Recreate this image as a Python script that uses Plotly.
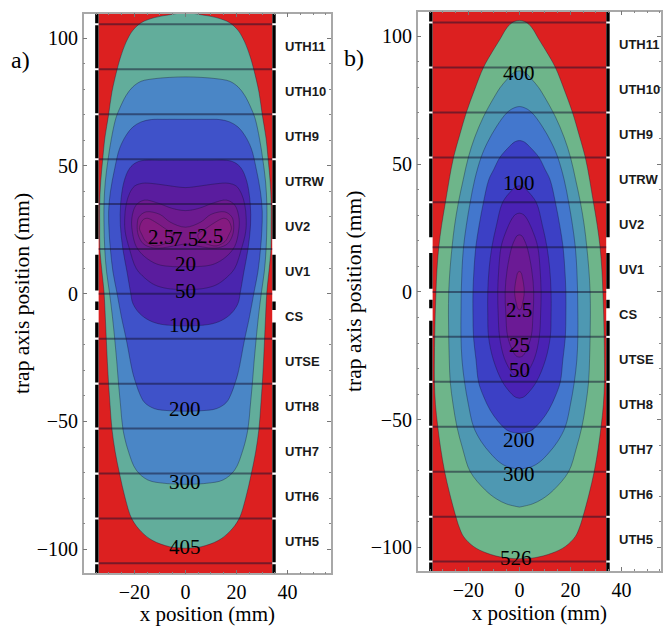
import plotly.graph_objects as go

# ---- electrodes (mm along the trap axis) ----
ELECTRODE_Y = [105.4, 87.8, 70.2, 52.6, 35.1, 17.5, 0, -17.6, -35.2, -52.8, -70.4, -88, -105.5]
ELECTRODE_NAMES = ["UTH11", "UTH10", "UTH9", "UTRW", "UV2", "UV1", "CS", "UTSE", "UTH8", "UTH7", "UTH6", "UTH5"]
ELECTRODE_LABEL_Y = [96.6, 79, 61.4, 43.8, 26.3, 8.8, -8.8, -26.4, -44, -61.6, -79.2, -96.8]
WALL_SEGMENTS = [(110, 105.8), (105, 88.2), (87.4, 70.6), (69.8, 53), (52.2, 35.5), (34.7, 21.4), (15.2, 1.2),
                 (-3.1, -6.4), (-11.3, -17.2), (-18, -34.8), (-35.6, -52.4), (-53.2, -70), (-70.8, -87.6),
                 (-88.4, -105.1), (-105.9, -110)]
TRAP_HALF_WIDTH = 34
WALL_X = 34.7

# ---- panel a contours: right half outline (x, y) in mm, top to bottom ----
A_405 = [(0, 110), (5.6, 109.2), (12.1, 108), (17.3, 106), (20.6, 103), (23.2, 98.5), (25.4, 92.6), (26.8, 87.6), (28.8, 78.9),
         (30.1, 70), (31.6, 60.7), (32.4, 52.6), (33.2, 43.7), (33.6, 35), (33.6, 26.8), (33.5, 17.4), (32.7, 8.6), (31.9, 0.7),
         (31.4, -9), (31, -17.8), (30.6, -26.5), (30.1, -35.4), (29.5, -44), (28.8, -52.9), (27.5, -62), (25.8, -70.5),
         (23.6, -80), (21, -88.1), (17.3, -93.1), (12.8, -96.6), (6.2, -99), (0, -99.6)]
A_300 = [(0, 84.8), (6.2, 84.6), (12.1, 84.1), (17.3, 83.1), (20.6, 80.9), (23.2, 77.6), (25.8, 72.4), (27.3, 68.5), (29, 60.7),
         (30.3, 52.6), (31.4, 43.7), (31.9, 35), (31.9, 26.8), (31.6, 17.4), (30.9, 8.6), (29.8, 0.7), (28.6, -9), (27.7, -17.8),
         (26.9, -26.5), (26.2, -35.4), (25.4, -44), (24.5, -52.9), (22.5, -61.2), (19.3, -69), (14.7, -72.9), (8.2, -74.2), (0, -74.6)]
A_200 = [(0, 68.2), (8.2, 68.2), (13.4, 68.1), (17.3, 67.2), (20.6, 65.2), (23.2, 62), (25.8, 56.8), (27.7, 49), (29.4, 39.8),
         (30.1, 32), (29.9, 24.2), (29.4, 17.4), (28.4, 8.6), (26.9, 0.7), (25.1, -9), (23.2, -17.8), (20.6, -31.1), (19.3, -35.4),
         (18, -39), (16, -42.6), (12.1, -45), (6.2, -45.8), (0, -46)]
A_100 = [(0, 52.2), (9.5, 52.2), (16, 52.2), (19.3, 51.3), (21.9, 49), (24.1, 43.7), (25.4, 35), (25.5, 26.8), (24.5, 17.4),
         (22.9, 8.6), (21.5, 0.5), (20.6, -3.8), (18, -7.7), (14.1, -10.5), (9.5, -12), (4.3, -12.5), (0, -12.6)]
A_50 = [(0, 41.5), (5.6, 42.1), (12.1, 43), (16.7, 43.2), (19.9, 42.1), (21.9, 39.2), (23.2, 35), (23.8, 29.5), (23.6, 24.2),
        (21.9, 17.4), (19.3, 9.9), (16, 6.2), (12, 3.4), (7, 2), (0, 1.5)]
A_20 = [(0, 32.5), (5, 33.3), (11, 35.5), (16, 36.6), (19.3, 34.7), (21, 29.5), (20.8, 24.2), (19.3, 18.5), (16, 14.5), (11, 11.5),
        (5, 10.6), (0, 10.6)]
A_7_5 = [(0, 26), (6, 28), (10, 31), (15.4, 32), (18.2, 30), (18.9, 26.8), (18.5, 23), (16.5, 19.5), (13, 18), (9, 17.9), (4.5, 18.7), (0, 19.5)]
A_2_5_LOBE = [(18, 25.6), (16.7, 28.8), (15, 29.5), (12.1, 28.2), (8.2, 25.6), (4.9, 23), (5.6, 21), (8.2, 19.5),
              (12.1, 18.7), (15.5, 20.4), (17, 23), (18, 25.6)]
A_COLORS = ["#62AD9B", "#4A86C6", "#3F52C9", "#4A25AE", "#5A1C9E", "#6C1A90", "#7A1A85", "#851A80"]
A_LABELS = [("2.5", -9.5, 22.2), ("7.5", 0, 21.2), ("2.5", 9.6, 22.6), ("20", 0, 11.6), ("50", 0, 1), ("100", 0, -12.2),
            ("200", 0, -45), ("300", 0, -73.8), ("405", 0, -99)]

# ---- panel b contours ----
B_526 = [(0, 106.2), (2, 105.8), (3.8, 104.6), (5.5, 102.5), (7.5, 99), (10.6, 94), (14.1, 87.8), (17.6, 79), (20.8, 70.2),
         (23.5, 61), (25.8, 52.7), (27.5, 44), (29, 35), (30.5, 26), (31.6, 17.5), (32.3, 8.7), (32.7, -0.1), (33, -9), (33.2, -17.5),
         (33.3, -26), (33.3, -35.3), (32.9, -44), (32, -52.7), (30.9, -61), (29.3, -70.3), (27.3, -79), (24.9, -87.9), (23.6, -92),
         (21.9, -95.7), (18, -99.6), (12.8, -102.2), (6, -104), (0, -104.4)]
B_400 = [(0, 86.5), (2.5, 85.6), (5, 83), (7.5, 80), (10, 76), (14.1, 68.5), (17.5, 60.5), (20, 52.7), (22, 44), (23.9, 35),
         (25.4, 26), (26.4, 17.5), (27.2, 8.7), (27.7, -0.1), (27.8, -9), (27.7, -17.5), (27.5, -26), (27.1, -35.3), (26, -44),
         (24.5, -52.7), (22.2, -61.5), (19.3, -70.3), (13.4, -77.5), (9, -81), (5, -83), (0, -84.2)]
B_300 = [(0, 72.5), (2.5, 71.8), (5, 70), (8.9, 64.8), (12.5, 58.5), (15, 52.7), (17.5, 44), (19.3, 35), (20.8, 26), (21.9, 17.5),
         (22.5, 8.7), (22.8, -0.1), (22.9, -9), (22.9, -17.5), (22.5, -26.6), (21.5, -35.3), (20, -44), (18, -52.7), (15, -58.5),
         (11.5, -63), (8, -66.5), (5, -68.3), (0, -69.4)]
B_200 = [(0, 59.2), (2, 58.6), (3.8, 57), (7.6, 52.7), (10, 48), (12, 43.9), (14.1, 35), (15.8, 26), (17.1, 17.5), (17.8, 8.7), (18.2, -0.1),
         (18.2, -9), (18, -17.5), (17, -26.6), (16, -35.3), (14, -41), (11.5, -46.2), (8.5, -50.5), (5, -54), (2.5, -55), (0, -55.3)]
B_100 = [(0, 41.5), (1.6, 41), (3.2, 39.5), (6.6, 35), (9, 26), (10.8, 17.5), (11.9, 8.7), (12.4, -0.1), (12.4, -9), (12.1, -17.5),
         (10.2, -26.6), (6.6, -35.3), (3, -40), (1.5, -41.2), (0, -41.6)]
B_50 = [(0, 30.8), (1.5, 30.3), (3, 28.5), (5.5, 23), (7.2, 17.5), (8.1, 8.7), (8.5, -0.1), (8.3, -9), (7.8, -17.5), (5.9, -26), (3, -31.5),
        (1.5, -32.7), (0, -33)]
B_25 = [(0, 22.3), (1, 21.9), (1.8, 20.5), (3, 17.5), (4.8, 8.7), (5.6, -0.1), (5.3, -9), (4.6, -17.5), (2.4, -23.5), (1.1, -25.2), (0, -25.5)]
B_2_5 = [(0, 8), (0.6, 7.6), (1.1, 6), (1.9, 0), (1.1, -5), (0.6, -6.6), (0, -7)]
B_COLORS = ["#6EB58A", "#4E98B2", "#4377CD", "#3C40C5", "#4A22B4", "#5C1CA5", "#6B1A95", "#801A85"]
B_LABELS = [("400", 0, 85.8), ("100", 0, 42.6), ("2.5", 0, -7), ("25", 0, -20.8), ("50", 0, -30.4), ("200", 0, -57.9),
            ("300", 0, -71.3), ("526", -1.4, -104)]

RED = "#DC2020"
SERIF = "Liberation Serif"
SANS = "Liberation Sans"
CONTOUR_LINE = "rgba(20,20,50,0.4)"

fig = go.Figure()


def mirrored(half):
    xs = [p[0] for p in half]
    ys = [p[1] for p in half]
    return xs + [-x for x in reversed(xs)], ys + list(reversed(ys))


def fill_polygon(xs, ys, color, xa, ya):
    fig.add_trace(go.Scatter(x=xs, y=ys, mode="lines", fill="toself", fillcolor=color,
                             line=dict(color=CONTOUR_LINE, width=0.9, shape="spline", smoothing=1.0),
                             xaxis=xa, yaxis=ya, hoverinfo="skip", showlegend=False))


def decorate(xa, ya):
    # red trap background
    fig.add_trace(go.Scatter(x=[-TRAP_HALF_WIDTH, TRAP_HALF_WIDTH, TRAP_HALF_WIDTH, -TRAP_HALF_WIDTH, -TRAP_HALF_WIDTH],
                             y=[-112, -112, 112, 112, -112], mode="lines", fill="toself", fillcolor=RED,
                             line=dict(width=0), xaxis=xa, yaxis=ya, hoverinfo="skip", showlegend=False))


def overlay(xa, ya, labels):
    for y in ELECTRODE_Y:
        fig.add_trace(go.Scatter(x=[-TRAP_HALF_WIDTH, TRAP_HALF_WIDTH], y=[y, y], mode="lines",
                                 line=dict(color="rgba(20,15,45,0.5)", width=2),
                                 xaxis=xa, yaxis=ya, hoverinfo="skip", showlegend=False))
    for sx in (-1, 1):
        xs, ys = [], []
        for y0, y1 in WALL_SEGMENTS:
            xs += [sx * WALL_X, sx * WALL_X, None]
            ys += [y0, y1, None]
        fig.add_trace(go.Scatter(x=xs, y=ys, mode="lines", line=dict(color="black", width=3.4),
                                 xaxis=xa, yaxis=ya, hoverinfo="skip", showlegend=False))
    for text, x, y in labels:
        fig.add_annotation(x=x, y=y, xref=xa, yref=ya, text=text, showarrow=False,
                           font=dict(family=SERIF, size=21, color="black"))
    for name, y in zip(ELECTRODE_NAMES, ELECTRODE_LABEL_Y):
        fig.add_annotation(x=38.3, y=y, xref=xa, yref=ya, text=f"<b>{name}</b>", showarrow=False, xanchor="left",
                           font=dict(family=SANS, size=13, color="#1a1a1a"))


# panel a
decorate("x", "y")
for half, color in zip([A_405, A_300, A_200, A_100, A_50, A_20, A_7_5], A_COLORS):
    fill_polygon(*mirrored(half), color, "x", "y")
for sx in (1, -1):
    fill_polygon([sx * p[0] for p in A_2_5_LOBE], [p[1] for p in A_2_5_LOBE], A_COLORS[7], "x", "y")
overlay("x", "y", A_LABELS)

# panel b
decorate("x2", "y2")
for half, color in zip([B_526, B_400, B_300, B_200, B_100, B_50, B_25, B_2_5], B_COLORS):
    fill_polygon(*mirrored(half), color, "x2", "y2")
overlay("x2", "y2", B_LABELS)

FRAME = "#A8A8A8"
xcommon = dict(tickvals=[-20, 0, 20, 40], ticks="inside", ticklen=4, tickcolor="#777", showline=True, linecolor=FRAME,
               linewidth=1.5, mirror="ticks", showgrid=False, zeroline=False,
               minor=dict(dtick=5, ticks="inside", ticklen=2, tickcolor="#888", showgrid=False),
               tickfont=dict(family=SERIF, size=20, color="black"),
               title=dict(text="x position (mm)", font=dict(family=SERIF, size=21, color="black"), standoff=6))
ycommon = dict(tickvals=[-100, -50, 0, 50, 100], ticks="inside", ticklen=4, tickcolor="#777", showline=True,
               linecolor=FRAME, linewidth=1.5, mirror="ticks", showgrid=False, zeroline=False,
               minor=dict(dtick=10, ticks="inside", ticklen=2, tickcolor="#888", showgrid=False),
               tickfont=dict(family=SERIF, size=20, color="black"))


def ytitle(standoff):
    return dict(text="trap axis position (mm)", font=dict(family=SERIF, size=21.5, color="black"), standoff=standoff)


fig.update_layout(
    width=663, height=626, margin=dict(l=0, r=0, t=0, b=0), paper_bgcolor="white", plot_bgcolor="white",
    showlegend=False,
    xaxis=dict(domain=[84 / 663, 332 / 663], range=[-39.84, 57.03], anchor="y", **xcommon),
    yaxis=dict(domain=[1 - 573.3 / 626, 1 - 13.5 / 626], range=[-109.4, 109.6], anchor="x", title=ytitle(1), **ycommon),
    xaxis2=dict(domain=[419 / 663, 1], range=[-39.84, 55.47], anchor="y2", **xcommon),
    yaxis2=dict(domain=[1 - 571 / 626, 1 - 11.5 / 626], range=[-109.2, 109.7], anchor="x2", title=ytitle(3), **ycommon),
)
fig.add_annotation(x=21 / 663, y=1 - 45 / 626, xref="paper", yref="paper", text="a)", showarrow=False, xanchor="center",
                   font=dict(family=SERIF, size=24, color="black"))
fig.add_annotation(x=355 / 663, y=1 - 43 / 626, xref="paper", yref="paper", text="b)", showarrow=False, xanchor="center",
                   font=dict(family=SERIF, size=24, color="black"))

fig.write_html("out.html", post_script="document.body.style.margin='0';", config={"displayModeBar": False})
